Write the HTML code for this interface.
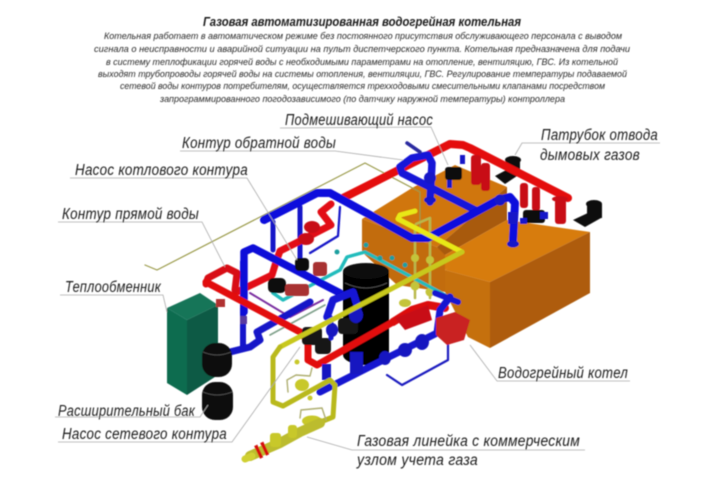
<!DOCTYPE html>
<html><head><meta charset="utf-8"><style>
html,body{margin:0;padding:0;background:#fff;width:720px;height:480px;overflow:hidden}
svg{display:block}
text{font-family:"Liberation Sans","DejaVu Sans",sans-serif;font-style:italic;fill:#1c1c1c}
.l{font-size:15.5px;letter-spacing:.3px}
.b{font-size:9.5px;fill:#2a2a2a}
.p{fill:none;stroke-linecap:round;stroke-linejoin:round}
.lead{fill:none;stroke:#aaa;stroke-width:.8}
</style></head><body>
<svg width="720" height="480" viewBox="0 0 720 480" xmlns="http://www.w3.org/2000/svg">
<defs><filter id="s" x="-5%" y="-5%" width="110%" height="110%"><feGaussianBlur stdDeviation="0.5"/></filter></defs>
<rect width="720" height="480" fill="#fff"/>
<g filter="url(#s)">
<!-- upper boiler -->
<polygon points="362,219 412,188 455,165 507,187 437,247" fill="#d0760e"/>
<polygon points="362,219 437,247 445,253 445,292 397,285 362,252" fill="#c26c0c"/>
<polygon points="437,247 507,187 507,220 445,255" fill="#a85a08"/>
<!-- lower boiler -->
<polygon points="445,270 507,220 590,232 490,282" fill="#d77c0c"/>
<polygon points="445,255 507,220 508,224 445,270" fill="#d77c0c"/>
<polygon points="445,270 490,282 490,348 468,337 445,292" fill="#c56f0e"/>
<polygon points="490,282 590,232 590,293 490,348" fill="#ae5c08"/>
<!-- exhaust -->
<g fill="#0c0c0c"><ellipse cx="513" cy="160" rx="8" ry="4"/><rect x="506" y="160" width="14" height="12"/><polygon points="495,176 510,168 520,174 505,184"/><ellipse cx="594" cy="204" rx="8" ry="4"/><rect x="587" y="204" width="15" height="14"/><polygon points="573,220 590,212 601,218 585,227"/></g>
<!-- thin olive -->
<polyline class="p" points="145,265 157,270 365,163 420,192 420,240" stroke="#9a9a4a" stroke-width="1.2"/>
<!-- gas risers -->
<g class="p" stroke="#b8b84c" stroke-width="2.5"><polyline points="415,298 415,228"/><polyline points="430,298 430,218 416,224"/></g>
<g fill="#c4c43a"><circle cx="415" cy="258" r="4"/><circle cx="430" cy="260" r="4"/><circle cx="415" cy="286" r="4.5"/><circle cx="430" cy="292" r="4.5"/><ellipse cx="405" cy="303" rx="6" ry="4"/></g>
<!-- cyan -->
<polyline class="p" points="273,293 283,300 340,270 347,257 365,252 445,295" stroke="#22bcbc" stroke-width="3.5"/>
<g fill="#1f9f9f"><circle cx="337" cy="252" r="2.5"/><circle cx="366" cy="245" r="2.5"/><circle cx="380" cy="258" r="2.5"/><circle cx="392" cy="258" r="2.5"/><circle cx="405" cy="265" r="2.5"/></g>
<polyline class="p" points="250,293 290,317 323,300" stroke="#7a2fa0" stroke-width="2"/>
<polyline class="p" points="270,335 325,305" stroke="#7fa08a" stroke-width="1.6"/>
<!-- tank -->
<rect x="343" y="271" width="46" height="84" fill="#060606"/><ellipse cx="366" cy="271" rx="23" ry="8" fill="#0b0b0b"/><ellipse cx="366" cy="355" rx="23" ry="10" fill="#060606"/>
<path d="M345,283 Q366,293 387,283" fill="none" stroke="#555" stroke-width=".7"/>
<!-- blue stub -->
<polyline class="p" points="435,293 458,302" stroke="#1414d0" stroke-width="6"/>
<!-- blue pipes behind -->
<polyline class="p" points="243,262 243,348" stroke="#1212cc" stroke-width="6"/>
<g fill="#5a3aa0"><rect x="240" y="300" width="7" height="8"/><rect x="240" y="316" width="7" height="8"/></g>
<polyline class="p" points="230,352 250,347 260,340 257,332 310,302" stroke="#1212c8" stroke-width="7"/>
<polyline class="p" points="273,222 273,250" stroke="#1212c8" stroke-width="5"/>
<polyline class="p" points="300,207 300,268" stroke="#1212c8" stroke-width="5"/>
<polyline class="p" points="340,207 338,236 310,253" stroke="#1212c8" stroke-width="2.2"/>
<!-- red upper link -->
<polyline class="p" points="331,204 321,212 331,225 296,243 280,251 276,262 272,275 237,292" stroke="#e20c12" stroke-width="7"/>
<polyline class="p" points="206,284 208,278 227,268 237,273 235,290" stroke="#d80c12" stroke-width="7"/>
<!-- upper blue loop -->
<polyline class="p" points="244,312 244,252 253,248 340,293" stroke="#1010d8" stroke-width="7.5"/>
<!-- red A -->
<polyline class="p" points="568,198 470,148 463,145 450,144 343,198" stroke="#e40c0c" stroke-width="8"/>
<polyline class="p" points="475,210 402,173 400,167 412,158 428,155 432,163 430,202" stroke="#1414d8" stroke-width="7.5"/>
<polyline class="p" points="407,143 420,152" stroke="#2a2aa0" stroke-width="3.5"/>
<polyline class="p" points="264,220 317,193 330,193 412,238 428,238 498,200 510,197 515,203 513,240" stroke="#1010dc" stroke-width="8"/>
<!-- valve blobs top -->
<g fill="#c81018"><rect x="471" y="155" width="10" height="30" rx="3"/><rect x="481" y="163" width="9" height="28" rx="3"/><rect x="520" y="183" width="8" height="25" rx="3"/><rect x="532" y="187" width="8" height="24" rx="3"/><rect x="555" y="199" width="11" height="25" rx="3"/><ellipse cx="560" cy="199" rx="8" ry="3"/><ellipse cx="312" cy="227" rx="8" ry="6"/><ellipse cx="306" cy="239" rx="8" ry="6"/></g>
<g fill="#111"><rect x="445" y="167" width="17" height="13" rx="3"/><rect x="523" y="210" width="22" height="13" rx="3"/><rect x="295" y="258" width="14" height="13" rx="4"/><rect x="268" y="278" width="18" height="15" rx="5"/></g>
<g fill="#1414c8"><circle cx="430" cy="178" r="6"/><ellipse cx="430" cy="200" rx="6" ry="3.5"/><ellipse cx="513" cy="244" rx="6" ry="3.5"/><rect x="508" y="212" width="10" height="12"/><circle cx="500" cy="200" r="5.5"/><rect x="460" y="155" width="5" height="9"/><rect x="540" y="212" width="8" height="7"/><rect x="447" y="180" width="5" height="8"/><rect x="520" y="218" width="7" height="6"/></g>
<g fill="#a83030"><rect x="313" y="262" width="14" height="14" rx="3"/><rect x="285" y="284" width="24" height="12" rx="3"/></g>
<!-- heat exchanger -->
<polygon points="167,308 200,293 218,305 187,320" fill="#167558"/>
<polygon points="167,308 187,320 187,395 167,383" fill="#0f6c50"/>
<polygon points="187,320 218,305 218,375 187,395" fill="#0c5a44"/>
<rect x="216" y="299" width="9" height="8" fill="#b03030"/>
<!-- expansion tanks -->
<rect x="202" y="343" width="30" height="34" rx="13" fill="#0c0c0c"/>
<rect x="202" y="382" width="31" height="38" rx="13" fill="#0c0c0c"/>
<path d="M203,352 Q217,358 231,352 M203,392 Q217,398 232,392" fill="none" stroke="#555" stroke-width=".7"/>
<!-- red main -->
<polyline class="p" points="206,282 302,333 308,343 308,360 317,365 393,322" stroke="#e20c10" stroke-width="7"/>
<polyline class="p" points="393,322 412,310 428,305 445,308" stroke="#dc0c10" stroke-width="8"/>
<!-- centre pumps -->
<g fill="#151515"><rect x="302" y="327" width="20" height="18" rx="4"/><rect x="315" y="338" width="16" height="16" rx="4"/><rect x="338" y="318" width="20" height="16" rx="4"/></g>
<!-- blue lower -->
<polyline class="p" points="320,392 387,358 417,343 437,333 440,310 450,297" stroke="#1212d0" stroke-width="7"/>
<polyline class="p" points="387,375 402,385 448,360 448,320" stroke="#1a1abf" stroke-width="2.2"/>
<polyline class="p" points="327,317 333,300 353,292 358,308" stroke="#1212d4" stroke-width="7.5"/>
<polyline class="p" points="331,318 331,338" stroke="#1212d4" stroke-width="5"/>
<g fill="#1414c0"><ellipse cx="356" cy="315" rx="7" ry="8"/><ellipse cx="332" cy="330" rx="6" ry="7"/><ellipse cx="385" cy="358" rx="6" ry="7"/><ellipse cx="405" cy="350" rx="7" ry="7"/><ellipse cx="422" cy="342" rx="7" ry="8"/><rect x="350" y="352" width="13" height="22"/><rect x="322" y="364" width="9" height="16"/></g>
<polygon points="395,318 428,305 432,320 405,330" fill="#c81018"/>
<polygon points="436,318 455,312 470,320 464,340 447,345 436,335" fill="#c92020"/>
<!-- yellow -->
<polyline class="p" points="415,211 400,215 398,219 462,252" stroke="#e8e818" stroke-width="5"/>
<polyline class="p" points="280,347 462,252" stroke="#c8c81e" stroke-width="5"/>
<polyline class="p" points="280,347 273,357 273,402 283,406 330,380 335,385 333,417 318,423" stroke="#b9b91c" stroke-width="5"/>
<!-- gas parts -->
<g fill="#c8c82a"><ellipse cx="302" cy="385" rx="7" ry="6"/><ellipse cx="312" cy="421" rx="10" ry="5.5"/><circle cx="297" cy="362" r="2.5"/><circle cx="310" cy="398" r="2.5"/></g>
<polyline class="p" points="250,456 280,443 300,432 320,423" stroke="#bcbc2e" stroke-width="10"/>
<polyline class="p" points="245,459 252,456" stroke="#d0d030" stroke-width="7"/>
<g fill="#c8c82a"><rect x="270" y="433" width="11" height="14" rx="3"/><rect x="288" y="425" width="9" height="13" rx="3"/></g>
<g class="p" stroke="#aeae70" stroke-width="1.4"><polyline points="288,392 287,380 296,375 310,376 312,368"/><polyline points="300,418 301,410 322,408 326,420"/></g>
<g fill="#d60f0f"><rect x="257" y="445" width="3.5" height="14" transform="rotate(-25 258 452)"/><rect x="263" y="442" width="3.5" height="14" transform="rotate(-25 264 449)"/></g>
<!-- leaders -->
<g class="lead">
<polyline points="280,128 431,127 448,165"/>
<polyline points="180,151 335,151 403,160"/>
<polyline points="70,178 247,178 297,260"/>
<polyline points="58,222 202,222 225,267"/>
<polyline points="60,295 163,295 167,312"/>
<polyline points="55,417 200,417 208,405"/>
<polyline points="58,442 232,442 300,347"/>
<polyline points="630,381 497,381 470,345"/>
<polyline points="660,143 522,143 515,155"/>
<polyline points="585,450 352,450 307,437"/>
</g>
<!-- text -->
<text x="203" y="26" font-size="13" font-weight="bold" textLength="318" lengthAdjust="spacingAndGlyphs">Газовая автоматизированная водогрейная котельная</text>
<text class="b" x="104" y="39" textLength="518" lengthAdjust="spacingAndGlyphs">Котельная работает в автоматическом режиме без постоянного присутствия обслуживающего персонала с выводом</text>
<text class="b" x="94" y="52" textLength="536" lengthAdjust="spacingAndGlyphs">сигнала о неисправности и аварийной ситуации на пульт диспетчерского пункта. Котельная предназначена для подачи</text>
<text class="b" x="106" y="65" textLength="512" lengthAdjust="spacingAndGlyphs">в систему теплофикации горячей воды с необходимыми параметрами на отопление, вентиляцию, ГВС. Из котельной</text>
<text class="b" x="98" y="77" textLength="529" lengthAdjust="spacingAndGlyphs">выходят трубопроводы горячей воды на системы отопления, вентиляции, ГВС. Регулирование температуры подаваемой</text>
<text class="b" x="120" y="89" textLength="485" lengthAdjust="spacingAndGlyphs">сетевой воды контуров потребителям, осуществляется трехходовыми смесительными клапанами посредством</text>
<text class="b" x="160" y="102" textLength="405" lengthAdjust="spacingAndGlyphs">запрограммированного погодозависимого (по датчику наружной температуры) контроллера</text>
<text class="l" x="285" y="125" textLength="148" lengthAdjust="spacingAndGlyphs">Подмешивающий насос</text>
<text class="l" x="182" y="148" textLength="154" lengthAdjust="spacingAndGlyphs">Контур обратной воды</text>
<text class="l" x="75" y="175" textLength="173" lengthAdjust="spacingAndGlyphs">Насос котлового контура</text>
<text class="l" x="62" y="219" textLength="137" lengthAdjust="spacingAndGlyphs">Контур прямой воды</text>
<text class="l" x="65" y="292" textLength="96" lengthAdjust="spacingAndGlyphs">Теплообменник</text>
<text class="l" x="58" y="416" textLength="137" lengthAdjust="spacingAndGlyphs">Расширительный бак</text>
<text class="l" x="62" y="439" textLength="165" lengthAdjust="spacingAndGlyphs">Насос сетевого контура</text>
<text class="l" x="498" y="378" textLength="130" lengthAdjust="spacingAndGlyphs">Водогрейный котел</text>
<text class="l" x="541" y="140" textLength="117" lengthAdjust="spacingAndGlyphs">Патрубок отвода</text>
<text class="l" x="540" y="160" textLength="100" lengthAdjust="spacingAndGlyphs">дымовых газов</text>
<text class="l" x="357" y="446" textLength="223" lengthAdjust="spacingAndGlyphs">Газовая линейка с коммерческим</text>
<text class="l" x="357" y="465" textLength="121" lengthAdjust="spacingAndGlyphs">узлом учета газа</text>
</g>
</svg>
</body></html>
